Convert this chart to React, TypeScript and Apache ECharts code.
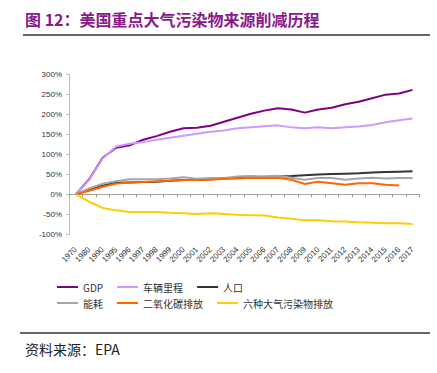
import React, { useEffect, useRef } from "react";
import * as echarts from "echarts";

const years = ["1970","1980","1990","1995","1996","1997","1998","1999","2000","2001","2002","2003","2004","2005","2006","2007","2008","2009","2010","2011","2012","2013","2014","2015","2016","2017"];
const yTicks = [-100, -50, 0, 50, 100, 150, 200, 250, 300];

const gdp = [0, 38, 92, 117, 123, 137, 146, 157, 166, 167, 172, 182, 192, 202, 210, 216, 213, 205, 213, 217, 226, 232, 241, 250, 253, 262];
const vehicleMiles = [0, 36, 90, 120, 127, 131, 137, 142, 147, 152, 157, 160, 166, 168, 171, 173, 168, 166, 168, 166, 168, 170, 174, 181, 186, 190];
const population = [0, 11, 22, 29, 30, 31, 32, 34, 36, 37, 38, 40, 41, 42, 44, 45, 46, 48, 50, 51, 52, 53, 55, 56, 57, 58];
const energy = [0, 15, 27, 33, 38, 38, 38, 40, 43, 39, 41, 41, 45, 46, 45, 47, 42, 37, 41, 41, 37, 40, 42, 40, 41, 41];
const co2 = [0, 9, 19, 27, 30, 31, 33, 34, 36, 36, 37, 39, 40, 42, 41, 42, 37, 26, 32, 28, 24, 28, 28, 24, 22, null];
const sixPollutants = [0, -18, -34, -40, -44, -44, -44, -46, -47, -49, -47, -49, -51, -52, -53, -58, -61, -65, -65, -67, -68, -70, -71, -72, -72, -74];

const seriesNames = ["GDP", "车辆里程", "人口", "能耗", "二氧化碳排放", "六种大气污染物排放"];
const seriesColors = ["#800080", "#CC99FF", "#333333", "#A6A6A6", "#FF6600", "#FFCC00"];
const seriesData = [gdp, vehicleMiles, population, energy, co2, sixPollutants];

const titleText = "图 12：美国重点大气污染物来源削减历程";
const sourceText = "资料来源：EPA";

export default function App() {
  const ref = useRef<HTMLDivElement>(null);
  useEffect(() => {
    if (!ref.current) return;
    const chart = echarts.init(ref.current, null, { renderer: "svg" });
    const legendText = { fontSize: 10, color: "#333", fontFamily: "Noto Sans CJK SC", width: 80 };
    chart.setOption({
      animation: false,
      backgroundColor: "#ffffff",
      grid: { left: 69, top: 74.7, width: 350.3, height: 159.6, outerBoundsMode: "none", containLabel: false },
      legend: [
        {
          data: seriesNames.slice(0, 3),
          left: 52, top: 277, orient: "horizontal", icon: "rect",
          itemWidth: 21, itemHeight: 2, itemGap: 14,
          textStyle: legendText, selectedMode: false,
        },
        {
          data: seriesNames.slice(3, 6),
          left: 52, top: 293, orient: "horizontal", icon: "rect",
          itemWidth: 21, itemHeight: 2, itemGap: 14,
          textStyle: legendText, selectedMode: false,
        },
      ],
      xAxis: [
        {
          type: "category", data: years, position: "bottom", boundaryGap: true,
          axisLine: { show: false, onZero: false },
          axisTick: { show: false },
          axisLabel: { interval: 0, rotate: 45, fontSize: 8, color: "#333", fontFamily: "Liberation Sans", margin: 14 },
        },
        {
          type: "category", data: years, position: "bottom", boundaryGap: true,
          axisLine: { show: true, onZero: true, onZeroAxisIndex: 0, lineStyle: { color: "#A0A0A0", width: 1 } },
          axisTick: { show: true, interval: 0, length: 3, lineStyle: { color: "#A0A0A0" } },
          axisLabel: { show: false },
        },
      ],
      yAxis: {
        type: "value", min: -100, max: 300, interval: 50,
        axisLine: { show: true, lineStyle: { color: "#BFBFBF" } },
        axisTick: { show: true, length: 3, lineStyle: { color: "#BFBFBF" } },
        splitLine: { show: false },
        axisLabel: { formatter: (v: number) => (yTicks.includes(v) ? v + "%" : ""), fontSize: 8, color: "#333", fontFamily: "Liberation Sans", margin: 7 },
      },
      series: seriesNames.map((name, i) => ({
        name, type: "line", xAxisIndex: 0, data: seriesData[i],
        symbol: "none", showSymbol: false,
        lineStyle: { color: seriesColors[i], width: 2 },
        itemStyle: { color: seriesColors[i] },
        connectNulls: false,
      })),
      graphic: [
        {
          type: "text", left: 25, top: 11,
          style: { text: titleText, fontSize: 16, fontWeight: "bold", fill: "#8A1A8C", fontFamily: "Noto Sans CJK SC" },
        },
        { type: "line", shape: { x1: 23, y1: 35, x2: 430, y2: 35 }, style: { stroke: "#666", lineWidth: 2 } },
        { type: "line", shape: { x1: 20, y1: 333, x2: 430, y2: 333 }, style: { stroke: "#666", lineWidth: 2 } },
        {
          type: "text", left: 25, top: 342,
          style: { text: sourceText, fontSize: 14, fill: "#222", fontFamily: "Noto Sans CJK SC" },
        },
      ],
    });
    return () => chart.dispose();
  }, []);
  return <div ref={ref} style={{ position: "fixed", left: 0, top: 0, width: 437, height: 373, background: "#fff" }} />;
}
